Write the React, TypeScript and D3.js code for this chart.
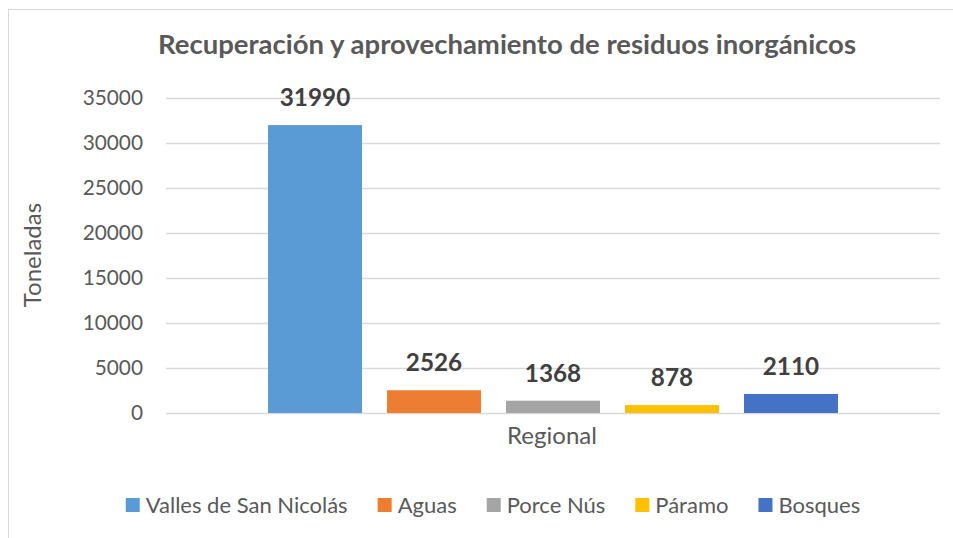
import React, { useEffect, useRef } from 'react';
import * as d3 from 'd3';

const title = 'Recuperación y aprovechamiento de residuos inorgánicos';
const category = 'Regional';
const seriesNames = ['Valles de San Nicolás', 'Aguas', 'Porce Nús', 'Páramo', 'Bosques'];
const seriesValues = [31990, 2526, 1368, 878, 2110];
const seriesColors = ['#5B9BD5', '#ED7D31', '#A5A5A5', '#FFC000', '#4472C4'];
const yTicks = [0, 5000, 10000, 15000, 20000, 25000, 30000, 35000];

const FONT = 'Lato, "Open Sans", sans-serif';

function App() {
  const ref = useRef(null);

  useEffect(() => {
    const width = 953;
    const height = 538;
    const plot = { left: 166, right: 940, top: 98, bottom: 413 };

    d3.select(ref.current).select('svg').remove();
    const svg = d3.select(ref.current)
      .append('svg')
      .attr('width', width)
      .attr('height', height)
      .style('position', 'absolute')
      .style('left', 0)
      .style('top', 0)
      .style('font-family', FONT);

    svg.append('rect')
      .attr('width', width).attr('height', height).attr('fill', '#fff');

    // chart border
    svg.append('rect')
      .attr('x', 8.5).attr('y', 9.5)
      .attr('width', width).attr('height', height)
      .attr('fill', 'none').attr('stroke', '#D9D9D9').attr('stroke-width', 1);

    // title
    svg.append('text')
      .attr('x', 507).attr('y', 54)
      .attr('text-anchor', 'middle')
      .attr('font-size', 27.5).attr('font-weight', 'bold')
      .attr('fill', '#595959')
      .text(title);

    const y = d3.scaleLinear().domain([0, 35000]).range([plot.bottom, plot.top]);

    const x0 = d3.scaleBand()
      .domain([category])
      .range([plot.left, plot.right])
      .paddingOuter(0.179);

    const x1 = d3.scaleBand()
      .domain(seriesNames)
      .range([x0(category), x0(category) + x0.bandwidth()])
      .paddingInner(0.21);

    // gridlines
    svg.append('g')
      .selectAll('line')
      .data(yTicks)
      .join('line')
      .attr('x1', plot.left).attr('x2', plot.right)
      .attr('y1', d => Math.round(y(d)) + 0.5).attr('y2', d => Math.round(y(d)) + 0.5)
      .attr('stroke', '#D9D9D9').attr('stroke-width', 1.5);

    // y tick labels
    svg.append('g')
      .selectAll('text')
      .data(yTicks)
      .join('text')
      .attr('x', 143).attr('y', d => y(d))
      .attr('dy', '0.35em')
      .attr('text-anchor', 'end')
      .attr('font-size', 20.8)
      .attr('fill', '#595959')
      .text(d => d);

    // bars
    svg.append('g')
      .selectAll('rect')
      .data(seriesNames)
      .join('rect')
      .attr('x', d => x1(d))
      .attr('width', x1.bandwidth())
      .attr('y', (d, i) => y(seriesValues[i]))
      .attr('height', (d, i) => y(0) - y(seriesValues[i]))
      .attr('fill', (d, i) => seriesColors[i]);

    // data labels
    svg.append('g')
      .selectAll('text')
      .data(seriesNames)
      .join('text')
      .attr('x', d => x1(d) + x1.bandwidth() / 2)
      .attr('y', (d, i) => y(seriesValues[i]) - 19)
      .attr('text-anchor', 'middle')
      .attr('font-size', 24.3).attr('font-weight', 'bold')
      .attr('fill', '#404040')
      .text((d, i) => seriesValues[i]);

    // axis titles
    svg.append('text')
      .attr('x', x0(category) + x0.bandwidth() / 2 - 1).attr('y', 436)
      .attr('dy', '0.35em')
      .attr('text-anchor', 'middle')
      .attr('font-size', 24).attr('fill', '#595959')
      .text(category);

    svg.append('text')
      .attr('transform', 'translate(33,255) rotate(-90)')
      .attr('dy', '0.35em')
      .attr('text-anchor', 'middle')
      .attr('font-size', 24).attr('fill', '#595959')
      .text('Toneladas');

    // legend
    const legend = svg.append('g');
    const items = legend.selectAll('g')
      .data(seriesNames)
      .join('g');
    items.append('rect')
      .attr('width', 14).attr('height', 14)
      .attr('y', -7)
      .attr('fill', (d, i) => seriesColors[i]);
    items.append('text')
      .attr('x', 20).attr('dy', '0.35em')
      .attr('font-size', 22).attr('fill', '#595959')
      .text(d => d);
    let cx = 0;
    items.each(function () {
      const g = d3.select(this);
      const w = 20 + g.select('text').node().getComputedTextLength();
      g.attr('transform', `translate(${cx},0)`);
      cx += w + 30;
    });
    const total = cx - 30;
    legend.attr('transform', `translate(${493 - total / 2},505)`);
  }, []);

  return <div ref={ref} />;
}

export default App;
